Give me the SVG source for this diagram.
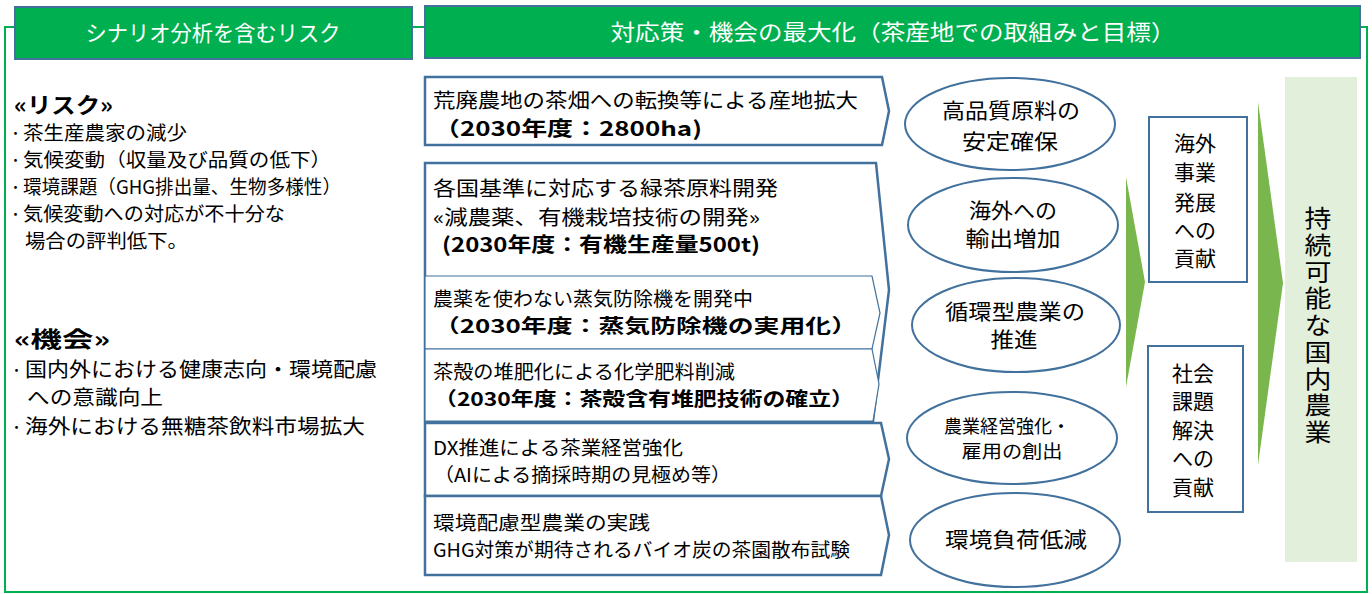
<svg xmlns="http://www.w3.org/2000/svg" width="1372" height="594" viewBox="0 0 1372 594">
<style>
text{font-family:"Noto Sans CJK JP","Noto Sans",sans-serif;fill:#000}
.hd{fill:#00b050;stroke:#41719c;stroke-width:2}
.ht{fill:#fff;font-size:22px;text-anchor:middle}
.pen{fill:#fff;stroke:#41719c;stroke-width:2.5}
.pin{fill:#fff;stroke:#41719c;stroke-width:1.2}
.ell{fill:#fff;stroke:#41719c;stroke-width:2}
.box{fill:#fff;stroke:#41719c;stroke-width:2}
.frame{fill:none;stroke:#00b050;stroke-width:2}
.t20{font-size:20px}
.t19{font-size:19px}
.b{font-weight:bold}
.r{font-size:19px}
.o{font-size:20.5px}
.dot{font-size:13px}
.c{text-anchor:middle}
.e{font-size:21px;text-anchor:middle}
.arr{fill:#7ab64e}
</style>
<g id="connectors">
<polyline class="frame" points="15,27 5,27 5,592 1367,592 1367,27 1360,27"/>
<line class="frame" x1="412" y1="27" x2="425" y2="27"/>
<polygon class="arr" points="1126,177 1145,282 1126,387"/>
<polygon class="arr" points="1258,102 1283,283 1258,465"/>
</g>
<g id="header-risk">
<rect class="hd" x="15" y="7" width="397" height="52"/>
<text class="ht" x="213" y="41" textLength="255" lengthAdjust="spacingAndGlyphs">シナリオ分析を含むリスク</text>
</g>
<g id="header-measures">
<rect class="hd" x="425" y="6" width="935" height="52"/>
<text class="ht" x="893" y="40" font-size="23" textLength="565" lengthAdjust="spacingAndGlyphs">対応策・機会の最大化（茶産地での取組みと目標）</text>
</g>
<g id="risk-text">
<text class="b" x="14" y="113" font-size="22" textLength="99" lengthAdjust="spacingAndGlyphs">«リスク»</text>
<text class="dot" x="9" y="138">・</text>
<text class="r" x="23" y="140" textLength="164" lengthAdjust="spacingAndGlyphs">茶生産農家の減少</text>
<text class="dot" x="9" y="165">・</text>
<text class="r" x="23" y="167" textLength="308" lengthAdjust="spacingAndGlyphs">気候変動（収量及び品質の低下）</text>
<text class="dot" x="9" y="192">・</text>
<text class="r" x="23" y="194" textLength="318" lengthAdjust="spacingAndGlyphs">環境課題（GHG排出量、生物多様性）</text>
<text class="dot" x="9" y="219">・</text>
<text class="r" x="23" y="221" textLength="262" lengthAdjust="spacingAndGlyphs">気候変動への対応が不十分な</text>
<text class="r" x="25" y="248" textLength="163" lengthAdjust="spacingAndGlyphs">場合の評判低下。</text>
</g>
<g id="opportunity-text">
<text class="b" x="14" y="347" font-size="22" textLength="96" lengthAdjust="spacingAndGlyphs">«機会»</text>
<text class="dot" x="10" y="375" font-size="14">・</text>
<text class="o" x="25" y="377" textLength="352" lengthAdjust="spacingAndGlyphs">国内外における健康志向・環境配慮</text>
<text class="o" x="27" y="405" textLength="136" lengthAdjust="spacingAndGlyphs">への意識向上</text>
<text class="dot" x="10" y="432" font-size="14">・</text>
<text class="o" x="25" y="434" textLength="340" lengthAdjust="spacingAndGlyphs">海外における無糖茶飲料市場拡大</text>
</g>
<g id="m1">
<polygon class="pen" points="425,77 882,77 889,111 882,145 425,145"/>
<text class="t20" x="433" y="108" textLength="425" lengthAdjust="spacingAndGlyphs">荒廃農地の茶畑への転換等による産地拡大</text>
<text class="t20 b" x="434" y="136" textLength="268" lengthAdjust="spacingAndGlyphs">（2030年度：2800ha)</text>
</g>
<g id="m2">
<polygon class="pen" points="425,163 876,163 889,290 873,421 425,421"/>
<text class="t20" x="433" y="196" textLength="345" lengthAdjust="spacingAndGlyphs">各国基準に対応する緑茶原料開発</text>
<text class="t20" x="433" y="225" textLength="327" lengthAdjust="spacingAndGlyphs">«減農薬、有機栽培技術の開発»</text>
<text class="t20 b" x="442" y="252" textLength="318" lengthAdjust="spacingAndGlyphs">(2030年度：有機生産量500t)</text>
</g>
<g id="m2a">
<polygon class="pin" points="425,276 872,276 880,313 872,349 425,349"/>
<text class="t19" x="433" y="306" textLength="320" lengthAdjust="spacingAndGlyphs">農薬を使わない蒸気防除機を開発中</text>
<text class="t19 b" x="434" y="333" textLength="423" lengthAdjust="spacingAndGlyphs">（2030年度：蒸気防除機の実用化）</text>
</g>
<g id="m2b">
<polygon class="pin" points="425,349 872,349 879,384 873,421 425,421"/>
<text class="t19" x="433" y="379" textLength="302" lengthAdjust="spacingAndGlyphs">茶殻の堆肥化による化学肥料削減</text>
<text class="t19 b" x="434" y="406" textLength="420" lengthAdjust="spacingAndGlyphs">（2030年度：茶殻含有堆肥技術の確立）</text>
</g>
<g id="m3">
<polygon class="pen" points="425,423 881,423 889,459 881,496 425,496"/>
<text class="t19" x="433" y="455" textLength="250" lengthAdjust="spacingAndGlyphs">DX推進による茶業経営強化</text>
<text class="t19" x="434" y="482" textLength="297" lengthAdjust="spacingAndGlyphs">（AIによる摘採時期の見極め等）</text>
</g>
<g id="m4">
<polygon class="pen" points="425,496 881,496 889,535 881,575 425,575"/>
<text class="t19" x="433" y="530" textLength="217" lengthAdjust="spacingAndGlyphs">環境配慮型農業の実践</text>
<text class="t19" x="433" y="557" textLength="417" lengthAdjust="spacingAndGlyphs">GHG対策が期待されるバイオ炭の茶園散布試験</text>
</g>
<g id="e1">
<ellipse class="ell" cx="1010" cy="124" rx="105" ry="46"/>
<text class="e" x="1011" y="118" textLength="138" lengthAdjust="spacingAndGlyphs">高品質原料の</text>
<text class="e" x="1010" y="149" textLength="96" lengthAdjust="spacingAndGlyphs">安定確保</text>
</g>
<g id="e2">
<ellipse class="ell" cx="1013" cy="225" rx="105" ry="47"/>
<text class="e" x="1013" y="218" font-size="20" textLength="88" lengthAdjust="spacingAndGlyphs">海外への</text>
<text class="e" x="1013" y="246" font-size="20" textLength="95" lengthAdjust="spacingAndGlyphs">輸出増加</text>
</g>
<g id="e3">
<ellipse class="ell" cx="1016" cy="325" rx="104" ry="47"/>
<text class="e" x="1015" y="319" textLength="140" lengthAdjust="spacingAndGlyphs">循環型農業の</text>
<text class="e" x="1014" y="347" textLength="47" lengthAdjust="spacingAndGlyphs">推進</text>
</g>
<g id="e4">
<ellipse class="ell" cx="1012" cy="438" rx="105" ry="46"/>
<text class="c" x="1007" y="433" font-size="18" textLength="126" lengthAdjust="spacingAndGlyphs">農業経営強化・</text>
<text class="c" x="1012" y="458" font-size="18" textLength="101" lengthAdjust="spacingAndGlyphs">雇用の創出</text>
</g>
<g id="e5">
<ellipse class="ell" cx="1015" cy="540" rx="105" ry="47"/>
<text class="e" x="1016" y="547" textLength="142" lengthAdjust="spacingAndGlyphs">環境負荷低減</text>
</g>
<g id="b1">
<rect class="box" x="1149" y="117" width="98" height="165"/>
<text class="e" font-size="22"><tspan x="1195" y="151">海外</tspan><tspan x="1195" y="180">事業</tspan><tspan x="1195" y="210">発展</tspan><tspan x="1195" y="238">への</tspan><tspan x="1195" y="266">貢献</tspan></text>
</g>
<g id="b2">
<rect class="box" x="1148" y="346" width="95" height="166"/>
<text class="e" font-size="22"><tspan x="1193" y="381">社会</tspan><tspan x="1193" y="409">課題</tspan><tspan x="1193" y="438">解決</tspan><tspan x="1193" y="466">への</tspan><tspan x="1193" y="495">貢献</tspan></text>
</g>
<g id="goal">
<rect x="1285" y="77" width="72" height="485" fill="#e2efda"/>
<text transform="translate(1318,0) scale(1.12,1)" x="0" y="206" font-size="24" letter-spacing="2.75" writing-mode="vertical-rl">持続可能な国内農業</text>
</g>
</svg>
